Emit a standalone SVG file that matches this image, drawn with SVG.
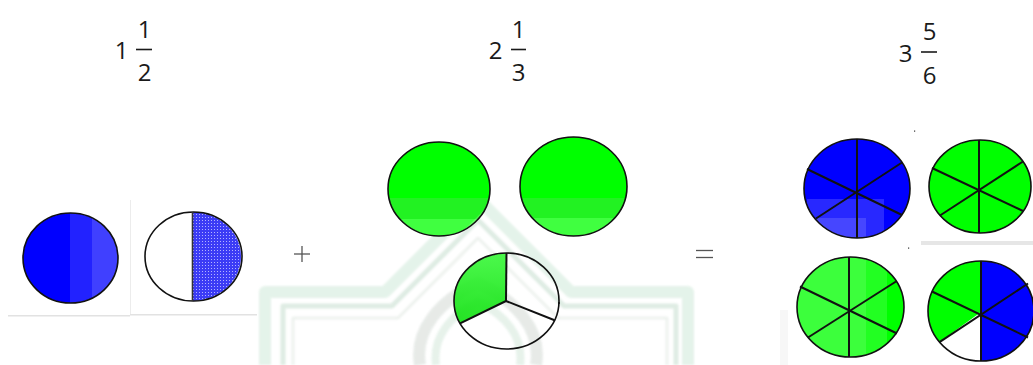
<svg xmlns="http://www.w3.org/2000/svg" width="1033" height="365" viewBox="0 0 1033 365">
<style>
.num{font-family:"Open Sans","Liberation Sans",Arial,sans-serif;font-size:24px;fill:#1a1a1a;text-anchor:middle}
.bar{stroke:#1a1a1a;stroke-width:1.6}
.ol{fill:none;stroke:#111;stroke-width:1.6}
.sp{stroke:#111;stroke-width:2}
.op{stroke:#555;stroke-width:1.3}
</style>
<defs>
<pattern id="dots" width="3" height="3" patternUnits="userSpaceOnUse">
<rect width="3" height="3" fill="#3c3cf5"/>
<rect x="1" y="1" width="1" height="1" fill="#b4b4ff"/>
</pattern>
<filter id="soft" x="-5%" y="-5%" width="110%" height="110%"><feGaussianBlur stdDeviation="1.2"/></filter>
<clipPath id="cA"><ellipse cx="70.5" cy="258" rx="47.5" ry="45"/></clipPath>
<clipPath id="cG1"><ellipse cx="439" cy="189" rx="51" ry="47"/></clipPath>
<clipPath id="cG2"><ellipse cx="573.5" cy="186.5" rx="53.5" ry="49.5"/></clipPath>
<clipPath id="cB"><ellipse cx="857" cy="188.5" rx="53" ry="49.5"/></clipPath>
<clipPath id="cLG"><ellipse cx="850.5" cy="307" rx="53.5" ry="50"/></clipPath>
<clipPath id="cTR"><ellipse cx="980" cy="186.5" rx="51" ry="46.5"/></clipPath>
<clipPath id="cBR"><ellipse cx="981" cy="311" rx="53" ry="50"/></clipPath>
<linearGradient id="gs" x1="0" y1="0" x2="0" y2="1">
<stop offset="0" stop-color="#3cf83c"/>
<stop offset="1" stop-color="#12e012"/>
</linearGradient>
</defs>

<!-- watermark -->
<g id="watermark" fill="none" stroke-linejoin="round" opacity="0.75" filter="url(#soft)">
<path d="M265,365 V292 H385 L478,199 L571,292 H688 V365" stroke="#dcefe3" stroke-width="12"/>
<path d="M283,365 V306 H392 L478,220 L564,306 H676 V365" stroke="#d4e6da" stroke-width="5"/>
<path d="M293,365 V318 H398 L478,238 L558,318 H667 V365" stroke="#e8eee9" stroke-width="3"/>
<path d="M420,365 C414,330 440,300 478,283 C516,300 542,330 536,365" stroke="#dfe4e0" stroke-width="12"/>
<path d="M436,365 C432,336 452,314 478,302 C504,314 524,336 520,365" stroke="#dfeee4" stroke-width="8"/>
</g>

<!-- fraction labels -->
<g id="label1">
<text class="num" x="121.5" y="59">1</text>
<text class="num" x="144.5" y="38">1</text>
<line class="bar" x1="136" y1="49.5" x2="152" y2="49.5"/>
<text class="num" x="144.5" y="81">2</text>
</g>
<g id="label2">
<text class="num" x="495.5" y="59">2</text>
<text class="num" x="518.5" y="38">1</text>
<line class="bar" x1="511" y1="49.5" x2="526" y2="49.5"/>
<text class="num" x="518.5" y="81">3</text>
</g>
<g id="label3">
<text class="num" x="905.5" y="62">3</text>
<text class="num" x="929.5" y="40">5</text>
<line class="bar" x1="921" y1="52" x2="937" y2="52"/>
<text class="num" x="929.5" y="84">6</text>
</g>

<!-- left panel -->
<g id="panel-left">
<line x1="130.5" y1="200" x2="130.5" y2="315" stroke="#ececec" stroke-width="1"/>
<line x1="8" y1="315.8" x2="130" y2="315.8" stroke="#e2e2e2" stroke-width="1.5"/>
<line x1="130" y1="314.8" x2="257" y2="314.8" stroke="#e2e2e2" stroke-width="1.5"/>
</g>
<g id="circle-blue-whole">
<g clip-path="url(#cA)">
<rect x="20" y="210" width="50" height="96" fill="#0000ff"/>
<rect x="70" y="210" width="22" height="96" fill="#2222ff"/>
<rect x="92" y="210" width="30" height="96" fill="#4040ff"/>
</g>
<ellipse class="ol" cx="70.5" cy="258" rx="47.5" ry="45" stroke="#333"/>
</g>
<g id="circle-half">
<ellipse cx="193.5" cy="256.5" rx="48.5" ry="44.5" fill="#fff"/>
<path d="M192.5,212 A48.5,44.5 0 0,1 192.5,301 Z" fill="url(#dots)"/>
<ellipse class="ol" cx="193.5" cy="256.5" rx="48.5" ry="44.5" stroke="#444"/>
<line x1="192.5" y1="212" x2="192.5" y2="301" stroke="#333" stroke-width="1.6"/>
</g>

<g id="plus"><line class="op" x1="294" y1="254" x2="310" y2="254"/><line class="op" x1="302" y1="246" x2="302" y2="262"/></g>

<!-- middle panel -->
<g id="green-whole-1">
<g clip-path="url(#cG1)">
<rect x="385" y="138" width="110" height="60" fill="#00ff00"/>
<rect x="385" y="198" width="110" height="21" fill="#22f222"/>
<rect x="385" y="219" width="110" height="20" fill="#40ff40"/>
<path d="M455,239 L490,204 L500,214 L470,239 Z" fill="#ffffff" opacity="0.2"/>
</g>
<ellipse class="ol" cx="439" cy="189" rx="51" ry="47"/>
</g>
<g id="green-whole-2">
<g clip-path="url(#cG2)">
<rect x="518" y="135" width="112" height="63" fill="#00ff00"/>
<rect x="518" y="198" width="112" height="20" fill="#22f222"/>
<rect x="518" y="218" width="112" height="20" fill="#40ff40"/>
</g>
<ellipse class="ol" cx="573.5" cy="186.5" rx="53.5" ry="49.5"/>
</g>
<g id="pie-third">
<path d="M506,301 L506.5,253 A52.5,48 0 0,0 460.1,323.4 Z" fill="url(#gs)" opacity="0.92"/>
<ellipse class="ol" cx="506.5" cy="301" rx="52.5" ry="48"/>
<line class="sp" x1="506" y1="301" x2="506.5" y2="253" stroke-width="1.8"/>
<line class="sp" x1="506" y1="301" x2="460.1" y2="323.4" stroke-width="1.8"/>
<line class="sp" x1="506" y1="301" x2="554.6" y2="320.2" stroke-width="1.8"/>
<line x1="558" y1="303" x2="560" y2="303" stroke="#111" stroke-width="1.5"/>
</g>

<g id="equals"><line class="op" x1="696" y1="250.5" x2="713" y2="250.5"/><line class="op" x1="696" y1="257.5" x2="713" y2="257.5"/></g>

<!-- right panel -->
<g id="panel-right">
<rect x="921" y="241" width="112" height="4" fill="#e6e6e6"/>
<rect x="914" y="130.5" width="1.2" height="1.2" fill="#333"/>
<rect x="908" y="247.5" width="1.2" height="1.2" fill="#333"/>
<rect x="780" y="310" width="8" height="55" fill="#f7f7f7"/>
</g>
<g id="circle-blue-sixths">
<g clip-path="url(#cB)">
<rect x="800" y="136" width="115" height="106" fill="#0000ff"/>
<rect x="807" y="199" width="77" height="42" fill="#2828ff"/>
<rect x="807" y="218" width="59" height="23" fill="#4646ff"/>
</g>
<ellipse class="ol" cx="857" cy="188.5" rx="53" ry="49.5" stroke-width="2"/>
<line class="sp" x1="857" y1="139" x2="857" y2="238"/>
<line class="sp" x1="807" y1="169" x2="902" y2="215"/>
<line class="sp" x1="816" y1="218.5" x2="902" y2="162.5"/>
</g>
<g id="circle-green-sixths-1">
<g clip-path="url(#cTR)"><rect x="925" y="136" width="110" height="100" fill="#00ff00"/></g>
<ellipse class="ol" cx="980" cy="186.5" rx="51" ry="46.5" stroke-width="2"/>
<line class="sp" x1="979" y1="140" x2="979" y2="233"/>
<line class="sp" x1="932" y1="168" x2="1023" y2="211"/>
<line class="sp" x1="940" y1="215.5" x2="1023" y2="161.5"/>
</g>
<g id="circle-green-sixths-2">
<g clip-path="url(#cLG)">
<rect x="795" y="255" width="72" height="105" fill="#3cff3c"/>
<rect x="866" y="255" width="21" height="105" fill="#22ff22"/>
<rect x="887" y="255" width="20" height="105" fill="#00ff00"/>
</g>
<ellipse class="ol" cx="850.5" cy="307" rx="53.5" ry="50" stroke="#333" stroke-width="2"/>
<line class="sp" x1="849" y1="257" x2="849" y2="357" stroke="#333"/>
<line class="sp" x1="800" y1="286.5" x2="897" y2="333.5" stroke="#333"/>
<line class="sp" x1="808" y1="337.5" x2="896" y2="281.5" stroke="#333"/>
</g>
<g id="circle-mixed-sixths">
<ellipse cx="981" cy="311" rx="53" ry="50" fill="#fff"/>
<g clip-path="url(#cBR)">
<path d="M981,312 L981,255 L1040,255 L1040,370 L981,370 Z" fill="#0000ff"/>
<path d="M981,312 L981,255 L925,255 L925,322 L939.5,342.1 Z" fill="#00ff00"/>
</g>
<ellipse class="ol" cx="981" cy="311" rx="53" ry="50" stroke-width="2"/>
<line class="sp" x1="981" y1="261" x2="981" y2="361"/>
<line class="sp" x1="932" y1="291.5" x2="1028" y2="337.5"/>
<line class="sp" x1="939.5" y1="342.1" x2="1028" y2="283.5"/>
</g>
</svg>
